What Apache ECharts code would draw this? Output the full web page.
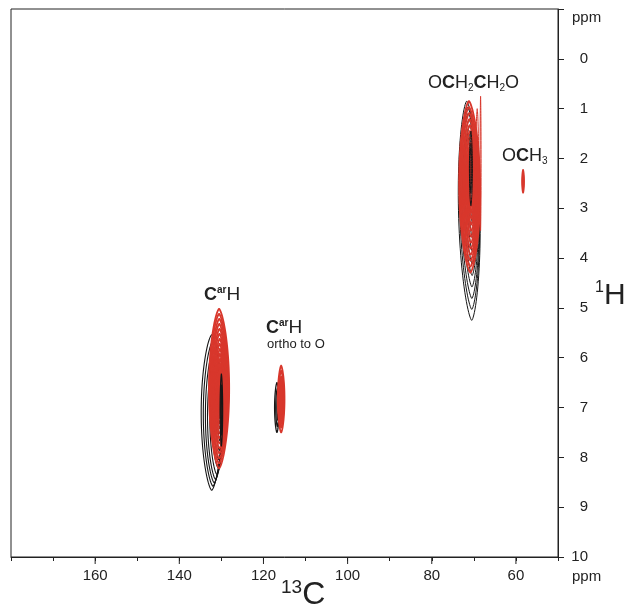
<!DOCTYPE html>
<html><head><meta charset="utf-8">
<script src="https://cdn.jsdelivr.net/npm/echarts@6/dist/echarts.min.js"></script>
<style>html,body{margin:0;padding:0;background:#fff}#c{width:627px;height:613px}</style>
</head><body><div id="c"></div>
<script>
// ---- axis ranges & tick labels ----
const c13Range = [50, 180];
const h1Range = [-1, 10];
const c13MajorTicks = [60, 80, 100, 120, 140, 160];

// ---- contour rings: [13C ppm, 1H ppm, half-width 13C, half-width 1H, shear] ----
const blackAromatic = [
  [132.3, 7.1, 2.5, 1.56, 0.0],
  [132.0, 7.12, 2.3, 1.46, 0.0],
  [131.7, 7.15, 2.1, 1.36, 0.0],
  [131.4, 7.18, 1.9, 1.26, 0.0],
  [131.1, 7.2, 1.65, 1.14, 0.0],
  [130.85, 7.2, 1.4, 1.0, 0.0],
  [130.65, 7.2, 1.1, 0.84, 0.0],
  [130.5, 7.2, 0.8, 0.66, 0.0],
  [130.4, 7.2, 0.5, 0.46, 0.0]
];
const blackAromaticCore = [
  [130.0, 7.05, 0.3, 0.72, 0.0],
  [130.0, 7.05, 0.15, 0.5, 0.0]
];
const redAromatic = [
  [130.55, 6.62, 2.4, 1.6, 0.0],
  [130.55, 6.62, 2.22, 1.5, 0.0],
  [130.5, 6.62, 2.04, 1.4, 0.0],
  [130.5, 6.62, 1.86, 1.3, 0.0],
  [130.45, 6.62, 1.68, 1.2, 0.0],
  [130.45, 6.62, 1.5, 1.1, 0.0],
  [130.4, 6.62, 1.32, 1.0, 0.0],
  [130.4, 6.62, 1.14, 0.9, 0.0],
  [130.35, 6.62, 0.96, 0.8, 0.0],
  [130.35, 6.62, 0.78, 0.7, 0.0],
  [130.3, 6.62, 0.6, 0.6, 0.0],
  [130.3, 6.62, 0.42, 0.5, 0.0],
  [130.3, 6.62, 0.24, 0.4, 0.0]
];
const blackOrtho = [
  [116.8, 7.0, 0.55, 0.5, 0.0],
  [116.7, 7.0, 0.38, 0.38, 0.0],
  [116.6, 7.0, 0.2, 0.25, 0.0]
];
const redOrtho = [
  [115.8, 6.83, 0.8, 0.67, 0.0],
  [115.8, 6.83, 0.64, 0.57, 0.0],
  [115.8, 6.85, 0.48, 0.47, 0.0],
  [115.8, 6.85, 0.32, 0.37, 0.0],
  [115.8, 6.85, 0.16, 0.27, 0.0]
];
const blackGlycol = [
  [71.1, 3.05, 2.55, 2.2, -0.27],
  [71.0, 3.0, 2.35, 2.03, -0.25],
  [70.9, 2.95, 2.15, 1.86, -0.23],
  [70.8, 2.9, 1.9, 1.68, -0.21],
  [70.7, 2.85, 1.65, 1.5, -0.19],
  [70.6, 2.8, 1.4, 1.32, -0.17],
  [70.5, 2.75, 1.1, 1.12, -0.15],
  [70.45, 2.7, 0.8, 0.9, -0.12],
  [70.4, 2.65, 0.5, 0.65, -0.1]
];
const blackGlycolCore = [
  [70.7, 2.2, 0.35, 0.75, 0.0],
  [70.7, 2.2, 0.18, 0.5, 0.0]
];
const redGlycol = [
  [71.0, 2.57, 2.5, 1.72, -0.1],
  [71.0, 2.57, 2.3, 1.6, -0.1],
  [70.95, 2.57, 2.1, 1.48, -0.1],
  [70.9, 2.57, 1.9, 1.36, -0.1],
  [70.85, 2.57, 1.7, 1.24, -0.1],
  [70.8, 2.57, 1.5, 1.12, -0.1],
  [70.75, 2.57, 1.3, 1.0, -0.1],
  [70.7, 2.57, 1.1, 0.88, -0.1],
  [70.7, 2.57, 0.9, 0.76, -0.1],
  [70.65, 2.57, 0.7, 0.64, -0.1],
  [70.65, 2.57, 0.5, 0.52, -0.1],
  [70.65, 2.57, 0.3, 0.4, -0.1]
];
const redGlycolSpike = [
  [68.4, 2.1, 0.12, 1.35, 0.0],
  [69.2, 2.2, 0.35, 1.2, 0.0]
];
const redMethoxy = [
  [58.3, 2.46, 0.25, 0.23, 0.0],
  [58.3, 2.46, 0.12, 0.14, 0.0]
];

const RED = '#d8372c';
const BLACK = '#161616';
const TXT = '#222';
const FONT = '"Liberation Sans", Arial, sans-serif';

function ringRenderer(color, width) {
  return function (params, api) {
    const cx = api.value(0), cy = api.value(1), rx = api.value(2), ry = api.value(3), sh = api.value(4);
    const pts = [];
    const n = 90;
    for (let k = 0; k < n; k++) {
      const t = (k / n) * Math.PI * 2;
      const c = Math.cos(t), s = Math.sin(t);
      const dx = rx * Math.sign(c) * Math.pow(Math.abs(c), 1.35);
      const dy = ry * s;
      pts.push(api.coord([cx + dx + sh * dy, cy + dy]));
    }
    return { type: 'polygon', shape: { points: pts }, style: { fill: 'none', stroke: color, lineWidth: width } };
  };
}
function contourSeries(data, color, width, z) {
  return { type: 'custom', data: data, renderItem: ringRenderer(color, width), z: z, silent: true, clip: true,
    encode: { x: 0, y: 1 } };
}
// longer marks for the labelled 13C ticks (the axis itself draws the short ones every 10 ppm)
const majorTickSeries = {
  type: 'custom', silent: true, clip: false, z: 5,
  data: c13MajorTicks.map(v => [v, h1Range[1]]),
  encode: { x: 0, y: 1 },
  renderItem: function (params, api) {
    const p = api.coord([api.value(0), api.value(1)]);
    return { type: 'line', shape: { x1: p[0], y1: p[1], x2: p[0], y2: p[1] + 7 },
      style: { stroke: '#222', lineWidth: 1 } };
  }
};

const chart = echarts.init(document.getElementById('c'), null, { renderer: 'canvas' });
chart.setOption({
  animation: false,
  backgroundColor: '#fff',
  grid: { left: 11, right: 69, top: 9, bottom: 56, show: true, borderColor: '#222', borderWidth: 1, backgroundColor: 'transparent' },
  xAxis: {
    type: 'value', min: c13Range[0], max: c13Range[1], interval: 10, inverse: true, position: 'bottom',
    axisLine: { show: true, onZero: false, lineStyle: { color: '#222', width: 1 } },
    axisTick: { show: true, length: 4, lineStyle: { color: '#222' } },
    axisLabel: { show: true, margin: 11, fontSize: 15, color: TXT, fontFamily: FONT,
      formatter: v => (c13MajorTicks.indexOf(v) >= 0 ? String(v) : '') },
    splitLine: { show: false }
  },
  yAxis: {
    type: 'value', min: h1Range[0], max: h1Range[1], interval: 1, inverse: true, position: 'right',
    axisLine: { show: true, onZero: false, lineStyle: { color: '#222', width: 1 } },
    axisTick: { show: true, length: 6, inside: false, lineStyle: { color: '#222' } },
    axisLabel: { show: true, margin: 30, align: 'right', fontSize: 15, color: TXT, fontFamily: FONT,
      formatter: v => (v < 0 ? '' : String(v)) },
    splitLine: { show: false }
  },
  series: [
    contourSeries(blackAromatic, BLACK, 1.1, 2),
    contourSeries(blackOrtho, BLACK, 1.3, 2),
    contourSeries(blackGlycol, BLACK, 1.0, 2),
    contourSeries(redAromatic, RED, 1.8, 3),
    contourSeries(redOrtho, RED, 1.8, 3),
    contourSeries(redGlycol, RED, 1.8, 3),
    contourSeries(redGlycolSpike, RED, 1.0, 3),
    contourSeries(redMethoxy, RED, 1.6, 3),
    contourSeries(blackAromaticCore, BLACK, 1.2, 4),
    contourSeries(blackGlycolCore, BLACK, 1.0, 4),
    majorTickSeries
  ],
  graphic: [
    { type: 'text', left: 572, top: 10, style: { text: 'ppm', font: '15px ' + FONT, fill: TXT } },
    { type: 'text', left: 572, top: 569, style: { text: 'ppm', font: '15px ' + FONT, fill: TXT } },
    { type: 'text', left: 281, top: 578, style: {
      text: '{s|13}{b|C}', rich: {
        s: { fontSize: 19, lineHeight: 19, verticalAlign: 'top', fill: TXT, fontFamily: FONT },
        b: { fontSize: 32, lineHeight: 34, verticalAlign: 'middle', fill: TXT, fontFamily: FONT }
      } } },
    { type: 'text', left: 595, top: 280, style: {
      text: '{s|1}{b|H}', rich: {
        s: { fontSize: 16, lineHeight: 16, verticalAlign: 'top', fill: TXT, fontFamily: FONT },
        b: { fontSize: 30, lineHeight: 32, verticalAlign: 'middle', fill: TXT, fontFamily: FONT }
      } } },
    { type: 'text', left: 204, top: 285, style: {
      text: '{b|C}{s|ar}{n|H}', rich: {
        b: { fontSize: 18, fontWeight: 'bold', lineHeight: 20, verticalAlign: 'middle', fill: TXT, fontFamily: FONT },
        s: { fontSize: 10, fontWeight: 'bold', lineHeight: 11, verticalAlign: 'top', fill: TXT, fontFamily: FONT },
        n: { fontSize: 19, lineHeight: 20, verticalAlign: 'middle', fill: TXT, fontFamily: FONT }
      } } },
    { type: 'text', left: 266, top: 318, style: {
      text: '{b|C}{s|ar}{n|H}', rich: {
        b: { fontSize: 18, fontWeight: 'bold', lineHeight: 20, verticalAlign: 'middle', fill: TXT, fontFamily: FONT },
        s: { fontSize: 10, fontWeight: 'bold', lineHeight: 11, verticalAlign: 'top', fill: TXT, fontFamily: FONT },
        n: { fontSize: 19, lineHeight: 20, verticalAlign: 'middle', fill: TXT, fontFamily: FONT }
      } } },
    { type: 'text', left: 267, top: 338, style: { text: 'ortho to O', font: '13px ' + FONT, fill: TXT } },
    { type: 'text', left: 428, top: 74, style: {
      text: '{n|O}{b|C}{n|H}{u|2}{b|C}{n|H}{u|2}{n|O}', rich: {
        n: { fontSize: 18, lineHeight: 20, verticalAlign: 'middle', fill: TXT, fontFamily: FONT },
        b: { fontSize: 18, fontWeight: 'bold', lineHeight: 20, verticalAlign: 'middle', fill: TXT, fontFamily: FONT },
        u: { fontSize: 10, lineHeight: 8, verticalAlign: 'bottom', fill: TXT, fontFamily: FONT }
      } } },
    { type: 'text', left: 502, top: 147, style: {
      text: '{n|O}{b|C}{n|H}{u|3}', rich: {
        n: { fontSize: 18, lineHeight: 20, verticalAlign: 'middle', fill: TXT, fontFamily: FONT },
        b: { fontSize: 18, fontWeight: 'bold', lineHeight: 20, verticalAlign: 'middle', fill: TXT, fontFamily: FONT },
        u: { fontSize: 10, lineHeight: 8, verticalAlign: 'bottom', fill: TXT, fontFamily: FONT }
      } } }
  ]
});
</script>
</body></html>
